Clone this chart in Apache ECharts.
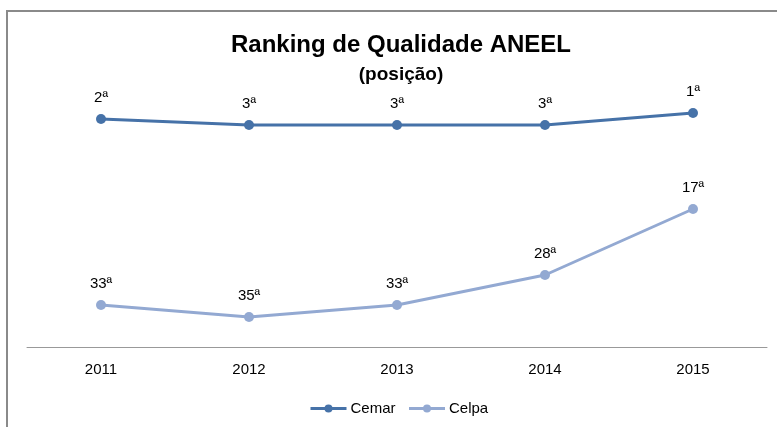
<!DOCTYPE html>
<html>
<head>
<meta charset="utf-8">
<script src="https://cdn.jsdelivr.net/npm/echarts@6/dist/echarts.min.js"></script>
<style>
  html, body { margin: 0; padding: 0; background: #fff; }
  #main { width: 777px; height: 427px; }
</style>
</head>
<body>
<div id="main"></div>
<script>
var years = ['2011', '2012', '2013', '2014', '2015'];
var cemar = [2, 3, 3, 3, 1];
var celpa = [33, 35, 33, 28, 17];

var myChart = echarts.init(document.getElementById('main'));

function serie(name, data, color) {
    return {
        name: name,
        type: 'line',
        data: data,
        symbol: 'circle',
        symbolSize: 10,
        lineStyle: { color: color, width: 3 },
        itemStyle: { color: color },
        label: {
            show: true,
            position: 'top',
            distance: 9,
            color: '#000',
            fontSize: 15,
            formatter: '{c}ª'
        }
    };
}

var option = {
    animation: false,
    textStyle: { fontFamily: 'Liberation Sans' },
    title: {
        text: 'Ranking de Qualidade ANEEL',
        subtext: '(posição)',
        left: 396,
        textAlign: 'center',
        top: 28,
        itemGap: 8,
        textStyle: { fontSize: 24, fontWeight: 'bold', color: '#000', fontFamily: 'Liberation Sans' },
        subtextStyle: { fontSize: 19, fontWeight: 'bold', color: '#000', fontFamily: 'Liberation Sans' }
    },
    graphic: [{
        type: 'rect',
        shape: { x: 7, y: 11, width: 820, height: 500 },
        style: { fill: 'none', stroke: '#8a8a8a', lineWidth: 2 },
        silent: true
    }],
    legend: {
        data: ['Cemar', 'Celpa'],
        bottom: 6,
        left: 304,
        itemWidth: 36,
        itemHeight: 10,
        itemGap: 12,
        textStyle: { fontSize: 15, color: '#000', padding: [0, 0, 0, -1] },
        lineStyle: { width: 3 }
    },
    grid: { left: 27, right: 10, top: 107, bottom: 80 },
    xAxis: {
        type: 'category',
        data: years,
        position: 'bottom',
        boundaryGap: true,
        axisLine: { onZero: false, lineStyle: { color: '#999', width: 1 } },
        axisTick: { show: false },
        axisLabel: { color: '#000', fontSize: 15, margin: 15 }
    },
    yAxis: {
        type: 'value',
        inverse: true,
        min: 0,
        max: 40,
        show: false,
        splitLine: { show: false }
    },
    series: [
        serie('Cemar', cemar, '#4672a8'),
        serie('Celpa', celpa, '#93a9d2')
    ]
};

myChart.setOption(option);
</script>
</body>
</html>
